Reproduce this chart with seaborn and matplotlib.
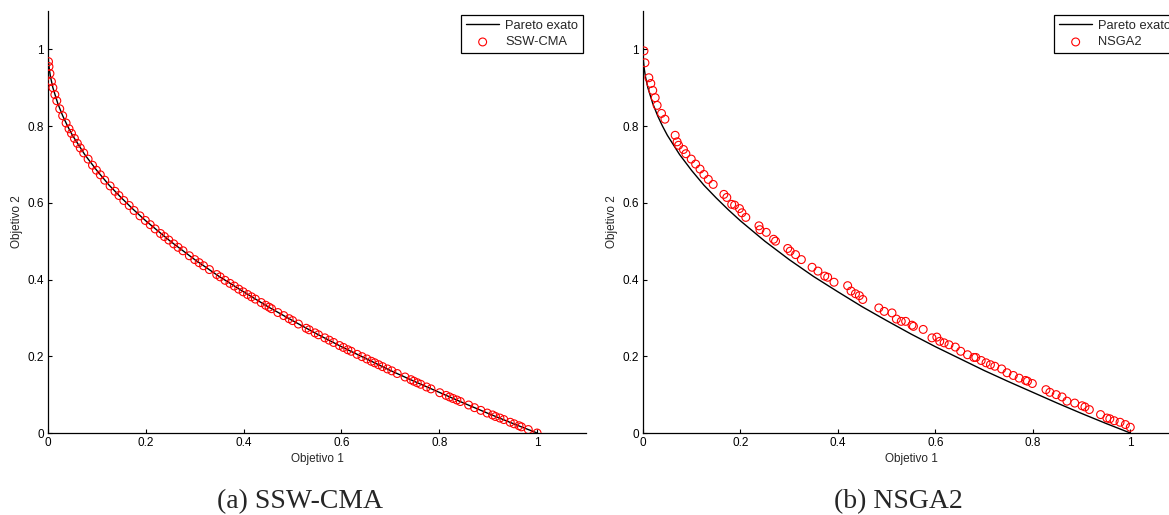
import matplotlib
matplotlib.use("Agg")
import matplotlib.pyplot as plt
import seaborn as sns
import pandas as pd

# Exact Pareto front
pareto_x = [0.0, 0.001, 0.0025, 0.005, 0.01, 0.02, 0.03, 0.04, 0.05, 0.075, 0.1, 0.125,
            0.15, 0.175, 0.2, 0.25, 0.3, 0.35, 0.4, 0.45, 0.5, 0.55, 0.6, 0.65, 0.7,
            0.75, 0.8, 0.85, 0.9, 0.95, 1.0]
pareto_y = [1.0, 0.968, 0.95, 0.929, 0.9, 0.859, 0.827, 0.8, 0.776, 0.726, 0.684, 0.646,
            0.613, 0.582, 0.553, 0.5, 0.452, 0.408, 0.368, 0.329, 0.293, 0.258, 0.225,
            0.194, 0.163, 0.134, 0.106, 0.078, 0.051, 0.025, 0.0]

# SSW-CMA solutions
ssw_x = [0.001, 0.002, 0.004, 0.007, 0.010, 0.014, 0.018, 0.024, 0.030, 0.037, 0.043, 0.048,
         0.054, 0.060, 0.066, 0.073, 0.082, 0.091, 0.099, 0.107, 0.116, 0.127, 0.137, 0.145,
         0.155, 0.166, 0.176, 0.188, 0.199, 0.209, 0.219, 0.230, 0.238, 0.247, 0.257, 0.266,
         0.276, 0.289, 0.300, 0.309, 0.318, 0.330, 0.345, 0.352, 0.362, 0.372, 0.381, 0.390,
         0.399, 0.408, 0.416, 0.424, 0.436, 0.445, 0.452, 0.457, 0.470, 0.482, 0.493, 0.500,
         0.512, 0.528, 0.534, 0.546, 0.553, 0.566, 0.575, 0.584, 0.596, 0.604, 0.613, 0.620,
         0.632, 0.642, 0.652, 0.661, 0.668, 0.676, 0.684, 0.694, 0.703, 0.714, 0.730, 0.742,
         0.748, 0.755, 0.762, 0.774, 0.783, 0.801, 0.814, 0.821, 0.828, 0.836, 0.843, 0.860,
         0.872, 0.885, 0.898, 0.909, 0.915, 0.924, 0.932, 0.945, 0.953, 0.963, 0.968, 0.982,
         1.000]
ssw_y = [0.968, 0.955, 0.937, 0.916, 0.900, 0.882, 0.866, 0.845, 0.827, 0.808, 0.793, 0.781,
         0.768, 0.755, 0.743, 0.730, 0.714, 0.698, 0.685, 0.673, 0.659, 0.644, 0.630, 0.619,
         0.606, 0.593, 0.580, 0.566, 0.554, 0.543, 0.532, 0.520, 0.512, 0.503, 0.493, 0.484,
         0.475, 0.462, 0.452, 0.444, 0.436, 0.426, 0.413, 0.407, 0.398, 0.390, 0.383, 0.375,
         0.368, 0.361, 0.355, 0.349, 0.340, 0.333, 0.328, 0.324, 0.314, 0.306, 0.298, 0.293,
         0.284, 0.273, 0.269, 0.261, 0.256, 0.248, 0.242, 0.236, 0.228, 0.223, 0.217, 0.213,
         0.205, 0.199, 0.193, 0.187, 0.183, 0.178, 0.173, 0.167, 0.162, 0.155, 0.146, 0.139,
         0.135, 0.131, 0.127, 0.120, 0.115, 0.105, 0.098, 0.094, 0.090, 0.086, 0.082, 0.073,
         0.066, 0.059, 0.052, 0.047, 0.043, 0.039, 0.035, 0.028, 0.024, 0.019, 0.016, 0.009,
         0.000]

# NSGA2 solutions
nsga_x = [0.002, 0.004, 0.012, 0.016, 0.020, 0.025, 0.029, 0.038, 0.045, 0.066, 0.070, 0.073,
          0.083, 0.088, 0.099, 0.108, 0.117, 0.125, 0.134, 0.144, 0.166, 0.172, 0.182, 0.188,
          0.198, 0.203, 0.211, 0.238, 0.240, 0.253, 0.268, 0.272, 0.297, 0.302, 0.313, 0.325,
          0.347, 0.359, 0.373, 0.379, 0.392, 0.420, 0.427, 0.436, 0.444, 0.451, 0.484, 0.495,
          0.511, 0.520, 0.530, 0.539, 0.552, 0.555, 0.575, 0.593, 0.603, 0.609, 0.618, 0.628,
          0.641, 0.652, 0.666, 0.679, 0.683, 0.694, 0.704, 0.713, 0.722, 0.736, 0.747, 0.760,
          0.772, 0.785, 0.789, 0.799, 0.827, 0.835, 0.848, 0.860, 0.870, 0.886, 0.901, 0.907,
          0.916, 0.939, 0.952, 0.958, 0.967, 0.979, 0.990, 1.000]
nsga_y = [0.996, 0.965, 0.926, 0.911, 0.893, 0.874, 0.854, 0.833, 0.818, 0.776, 0.759, 0.750,
          0.739, 0.728, 0.714, 0.701, 0.688, 0.674, 0.661, 0.648, 0.622, 0.614, 0.596, 0.594,
          0.585, 0.574, 0.562, 0.540, 0.530, 0.523, 0.505, 0.500, 0.481, 0.474, 0.465, 0.452,
          0.432, 0.422, 0.409, 0.406, 0.393, 0.384, 0.370, 0.363, 0.358, 0.348, 0.326, 0.317,
          0.313, 0.297, 0.291, 0.291, 0.281, 0.278, 0.270, 0.248, 0.250, 0.239, 0.235, 0.230,
          0.224, 0.213, 0.204, 0.197, 0.197, 0.189, 0.183, 0.178, 0.174, 0.167, 0.157, 0.150,
          0.143, 0.137, 0.135, 0.129, 0.113, 0.106, 0.100, 0.094, 0.083, 0.078, 0.071, 0.068,
          0.061, 0.048, 0.039, 0.037, 0.032, 0.028, 0.022, 0.015]

x_ticks = [0, 0.2, 0.4, 0.6, 0.8, 1]
tick_labels = ["0", "0.2", "0.4", "0.6", "0.8", "1"]
x_label = "Objetivo 1"
y_label = "Objetivo 2"
line_label = "Pareto exato"
captions = ["(a) SSW-CMA", "(b) NSGA2"]
series_names = ["SSW-CMA", "NSGA2"]

sns.set_style("white")
plt.rcParams["font.family"] = ["Liberation Sans", "DejaVu Sans"]

fig = plt.figure(figsize=(11.69, 5.15), dpi=100)
W, H = 1169, 515
positions = [
    [48 / W, (H - 433) / H, 538 / W, 422 / H],
    [643 / W, (H - 433) / H, 536 / W, 422 / H],
]
caption_x = [300, 898]

pareto_df = pd.DataFrame({"x": pareto_x, "y": pareto_y})
sol_dfs = [pd.DataFrame({"x": ssw_x, "y": ssw_y}), pd.DataFrame({"x": nsga_x, "y": nsga_y})]

for i in range(2):
    ax = fig.add_axes(positions[i])
    sns.lineplot(data=pareto_df, x="x", y="y", sort=False, color="black", linewidth=1.0,
                 label=line_label, ax=ax, zorder=2)
    sns.scatterplot(data=sol_dfs[i], x="x", y="y", marker="o", s=32, color="red",
                    label=series_names[i], ax=ax, zorder=3)
    coll = ax.collections[-1]
    coll.set_facecolor("none")
    coll.set_edgecolor("red")
    coll.set_linewidth(0.8)
    ax.set_xlim(0, 1.1)
    ax.set_ylim(0, 1.1)
    ax.set_xticks(x_ticks)
    ax.set_xticklabels(tick_labels)
    ax.set_yticks(x_ticks)
    ax.set_yticklabels(tick_labels)
    ax.tick_params(direction="in", length=3, width=0.8, labelsize=8.5, colors="black",
                   pad=3, left=True, bottom=True)
    for side in ["top", "right"]:
        ax.spines[side].set_visible(False)
    for side in ["left", "bottom"]:
        ax.spines[side].set_color("black")
        ax.spines[side].set_linewidth(0.9)
    ax.set_xlabel(x_label, fontsize=8.5, labelpad=3)
    ax.set_ylabel(y_label, fontsize=8.5, labelpad=3)
    leg = ax.legend(loc="upper right", bbox_to_anchor=(0.994, 0.99), fontsize=9.3,
                    frameon=True, fancybox=False, edgecolor="black", framealpha=1,
                    handlelength=2.6, borderpad=0.35, labelspacing=0.35,
                    handletextpad=0.45, borderaxespad=0)
    leg.get_frame().set_linewidth(0.9)
    fig.text(caption_x[i] / W, 1 - 508 / H, captions[i], ha="center", va="baseline",
             fontsize=20, family="Liberation Serif")

fig.savefig("out.png", dpi=100)
